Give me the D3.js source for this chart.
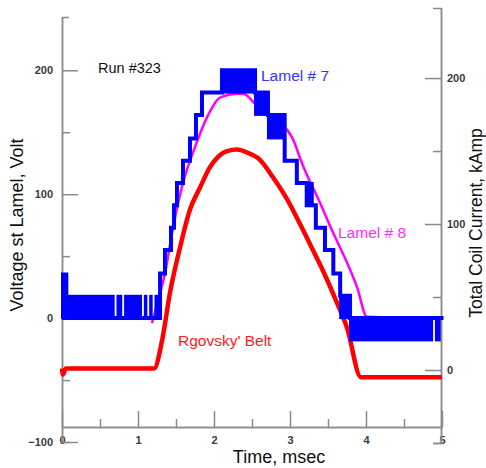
<!DOCTYPE html>
<html>
<head>
<meta charset="utf-8">
<script src="https://cdn.jsdelivr.net/npm/d3@7"></script>
<style>
  body { margin: 0; background: #fff; }
  text { font-family: "Liberation Sans", Arial, sans-serif; }
</style>
</head>
<body>
<div id="root"></div>
<script>
// time in msec
var xMajor = [0, 1, 2, 3, 4, 5];
var xMinor = [0.5, 1.5, 2.5, 3.5, 4.5];
var leftMajor = [-100, 0, 100, 200];
var leftMinor = [-50, 50, 150];
var rightMajor = [0, 100, 200];
var rightMinor = [-50, 50, 150];

// Lamel # 7 (volt) - quantized signal, step line + toggling bands [t0, t1, low, high]
var lamel7 = [[0, 0], [1.29, 36], [1.355, 55], [1.434, 73], [1.474, 91], [1.513, 109],
    [1.592, 127], [1.684, 145], [1.763, 164], [1.842, 182], [2.105, 200], [2.54, 182],
    [2.71, 164], [2.93, 127], [3.09, 109], [3.22, 91], [3.34, 73], [3.46, 55],
    [3.57, 36], [3.66, 18], [3.79, 0], [5.02, 0]];
var lamel7Bands = [[0, 0.07, 0, 36], [0.07, 0.68, 0, 18], [0.73, 0.78, 0, 18],
    [0.83, 1.04, 0, 18], [1.09, 1.11, 0, 18], [1.16, 1.18, 0, 18], [1.23, 1.29, 0, 18],
    [2.105, 2.54, 182, 200], [2.54, 2.71, 164, 182], [2.71, 2.93, 145, 164],
    [3.22, 3.30, 91, 109], [3.66, 3.79, 0, 18],
    [3.79, 4.87, -18, 0], [4.92, 4.97, -18, 0]];

// Lamel # 8 (volt)
var lamel8 = [[1.184, -4], [1.263, 14], [1.355, 36], [1.461, 73], [1.592, 109],
    [1.75, 138], [1.908, 162], [2.079, 178], [2.303, 181], [2.382, 181], [2.539, 173],
    [2.645, 166], [2.868, 158], [3.026, 146], [3.171, 123], [3.395, 93], [3.566, 69],
    [3.697, 52], [3.882, 25], [4.013, 1], [5.0, 0]];

// Rgovsky' Belt (kAmp)
var belt = [[0, 1], [0.013, -3], [0.05, 1], [1.211, 1],
    [1.316, 20], [1.421, 53], [1.553, 84], [1.684, 110], [1.816, 125], [1.947, 139],
    [2.053, 146], [2.171, 150], [2.303, 151], [2.434, 149], [2.605, 144], [2.776, 132],
    [2.961, 117], [3.132, 100], [3.303, 82], [3.434, 68], [3.618, 46], [3.75, 29],
    [3.934, -5], [5.0, -5]];

var svg = d3.select("#root")
    .append("svg")
    .attr("width", 486)
    .attr("height", 468);

var x = d3.scaleLinear().domain([0, 5]).range([62, 442]);
var yL = d3.scaleLinear().domain([-100, 243]).range([442, 17]);
var yR = d3.scaleLinear().domain([-50, 248]).range([443, 8]);

function styleAxis(g) {
    g.selectAll("path, line").attr("stroke", "#8a8a8a").attr("stroke-width", 1.5);
    g.selectAll("text")
        .attr("fill", "#3a3a3a")
        .attr("font-size", 11)
        .attr("font-weight", "bold")
        .attr("font-family", "Liberation Sans, Arial, sans-serif");
}

// bottom axis
svg.append("g")
    .attr("transform", "translate(0,427)")
    .call(d3.axisBottom(x).tickValues(xMinor).tickSize(-8).tickSizeOuter(0).tickFormat(""))
    .call(styleAxis);
svg.append("g")
    .attr("transform", "translate(0,427)")
    .call(d3.axisBottom(x).tickValues(xMajor).tickSize(-16).tickSizeOuter(0).tickPadding(9).tickFormat(d3.format("d")))
    .call(styleAxis);

// left axis
svg.append("g")
    .attr("transform", "translate(62,0)")
    .call(d3.axisLeft(yL).tickValues(leftMinor).tickSize(-8).tickSizeOuter(-7).tickFormat(""))
    .call(styleAxis);
svg.append("g")
    .attr("transform", "translate(62,0)")
    .call(d3.axisLeft(yL).tickValues(leftMajor).tickSize(-16).tickSizeOuter(0).tickPadding(9).tickFormat(d3.format("d")))
    .call(styleAxis);

// right axis
svg.append("g")
    .attr("transform", "translate(441,0)")
    .call(d3.axisRight(yR).tickValues(rightMinor).tickSize(-8).tickSizeOuter(-8).tickFormat(""))
    .call(styleAxis);
svg.append("g")
    .attr("transform", "translate(441,0)")
    .call(d3.axisRight(yR).tickValues(rightMajor).tickSize(-16).tickSizeOuter(0).tickPadding(6).tickFormat(d3.format("d")))
    .call(styleAxis);

// curves
svg.append("path")
    .datum(belt)
    .attr("fill", "none")
    .attr("stroke", "#ff0000")
    .attr("stroke-width", 4.5)
    .attr("stroke-linejoin", "round")
    .attr("d", d3.line()
        .x(function (d) { return x(d[0]); })
        .y(function (d) { return yR(d[1]); })
        .curve(d3.curveMonotoneX));

svg.append("path")
    .datum(lamel8)
    .attr("fill", "none")
    .attr("stroke", "#ff00ff")
    .attr("stroke-width", 2.5)
    .attr("stroke-linejoin", "round")
    .attr("d", d3.line()
        .x(function (d) { return x(d[0]); })
        .y(function (d) { return yL(d[1]); })
        .curve(d3.curveMonotoneX));

svg.append("g").selectAll("rect")
    .data(lamel7Bands)
    .enter()
    .append("rect")
    .attr("x", function (d) { return x(d[0]); })
    .attr("y", function (d) { return yL(d[3]); })
    .attr("width", function (d) { return x(d[1]) - x(d[0]); })
    .attr("height", function (d) { return yL(d[2]) - yL(d[3]); })
    .attr("fill", "#0000ff")
    .attr("stroke", "#0000ff")
    .attr("stroke-width", 2);

svg.append("path")
    .datum(lamel7)
    .attr("fill", "none")
    .attr("stroke", "#0000ff")
    .attr("stroke-width", 4)
    .attr("d", d3.line()
        .x(function (d) { return x(d[0]); })
        .y(function (d) { return yL(d[1]); })
        .curve(d3.curveStepAfter));

// labels
svg.append("text")
    .attr("transform", "translate(17,225) rotate(-90)")
    .attr("text-anchor", "middle")
    .attr("dominant-baseline", "central")
    .attr("font-size", 18)
    .attr("fill", "#111")
    .text("Voltage st Lamel, Volt");

svg.append("text")
    .attr("transform", "translate(476,223) rotate(-90)")
    .attr("text-anchor", "middle")
    .attr("dominant-baseline", "central")
    .attr("font-size", 17.5)
    .attr("fill", "#111")
    .text("Total Coil Current, kAmp");

svg.append("text")
    .attr("x", 279)
    .attr("y", 463)
    .attr("text-anchor", "middle")
    .attr("font-size", 18)
    .attr("fill", "#111")
    .text("Time, msec");

svg.append("text")
    .attr("x", 98)
    .attr("y", 73)
    .attr("font-size", 14.5)
    .attr("fill", "#111")
    .text("Run #323");

svg.append("text")
    .attr("x", 261)
    .attr("y", 81)
    .attr("font-size", 15.5)
    .attr("fill", "#3535ff")
    .text("Lamel # 7");

svg.append("text")
    .attr("x", 338)
    .attr("y", 238)
    .attr("font-size", 15.5)
    .attr("fill", "#ff2bff")
    .text("Lamel # 8");

svg.append("text")
    .attr("x", 178)
    .attr("y", 346)
    .attr("font-size", 15.5)
    .attr("fill", "#ff1a1a")
    .text("Rgovsky' Belt");
</script>
</body>
</html>
